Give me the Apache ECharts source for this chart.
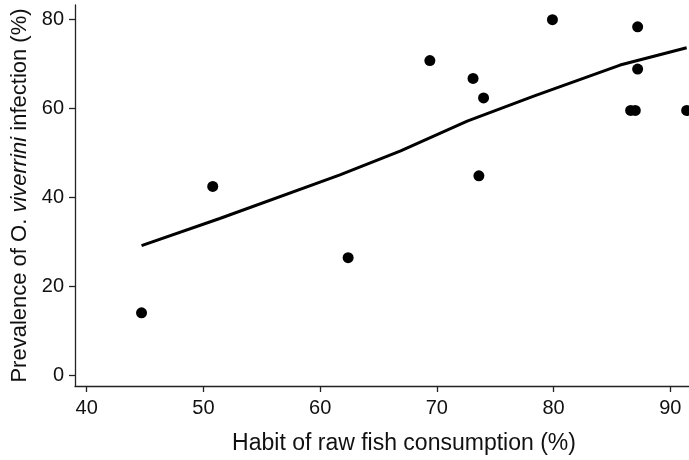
<!DOCTYPE html>
<html>
<head>
<meta charset="utf-8">
<script src="https://cdn.jsdelivr.net/npm/echarts@6/dist/echarts.min.js"></script>
<style>
html,body{margin:0;padding:0;background:#fff;}
#c{width:689px;height:460px;}
</style>
</head>
<body>
<div id="c"></div>
<script>
// Observed data: habit of raw fish consumption (%) vs prevalence of O. viverrini infection (%)
var habitX = [44.7, 50.8, 62.4, 69.4, 73.1, 74.0, 73.6, 79.9, 87.2, 87.2, 86.6, 87.0, 91.4];
var prevalenceY = [14.0, 42.4, 26.4, 70.7, 66.7, 62.3, 44.8, 79.9, 78.3, 68.8, 59.5, 59.5, 59.5];

// Fitted (smoothed) line
var fitX = [44.7, 51.4, 61.7, 66.9, 72.6, 78.3, 85.7, 91.4];
var fitY = [29.1, 35.2, 45.0, 50.4, 57.1, 62.7, 69.7, 73.6];

var xTicks = [40, 50, 60, 70, 80, 90];
var yTicks = [0, 20, 40, 60, 80];

var points = habitX.map(function (x, i) { return [x, prevalenceY[i]]; });
var fitLine = fitX.map(function (x, i) { return [x, fitY[i]]; });

var font = '"Liberation Sans", Arial, Helvetica, sans-serif';
var txt = '#111';
var axisCol = '#222';

var chart = echarts.init(document.getElementById('c'), null, {renderer: 'canvas'});
chart.setOption({
  animation: false,
  backgroundColor: '#fff',
  grid: {left: 75, right: 0, top: 5, bottom: 72, containLabel: false},
  xAxis: {
    type: 'value',
    min: 39, max: 91.6,
    name: 'Habit of raw fish consumption (%)',
    nameLocation: 'middle',
    nameGap: 46,
    nameTextStyle: {fontFamily: font, fontSize: 23, color: txt, padding: [0, 0, 0, 44]},
    axisLine: {show: true, onZero: false, lineStyle: {color: axisCol, width: 1.3}},
    axisTick: {show: true, length: 6, lineStyle: {color: axisCol, width: 1.3}, customValues: xTicks},
    axisLabel: {fontFamily: font, fontSize: 20, color: txt, margin: 12, customValues: xTicks},
    splitLine: {show: false}
  },
  yAxis: {
    type: 'value',
    min: -2.46, max: 83.2,
    name: '{n|Prevalence of O. }{i|viverrini}{n| infection (%)}',
    nameLocation: 'middle',
    nameRotate: 90,
    nameGap: 42,
    nameTextStyle: {
      fontFamily: font, fontSize: 22, color: txt,
      rich: {
        n: {fontFamily: font, fontSize: 22, color: txt},
        i: {fontFamily: font, fontSize: 22, color: txt, fontStyle: 'italic'}
      }
    },
    axisLine: {show: true, onZero: false, lineStyle: {color: axisCol, width: 1.3}},
    axisTick: {show: true, length: 6, lineStyle: {color: axisCol, width: 1.3}, customValues: yTicks},
    axisLabel: {fontFamily: font, fontSize: 20, color: txt, margin: 11, customValues: yTicks},
    splitLine: {show: false}
  },
  series: [
    {
      type: 'line',
      data: fitLine,
      showSymbol: false,
      smooth: false,
      lineStyle: {color: '#000', width: 3},
      z: 2
    },
    {
      type: 'scatter',
      data: points,
      symbol: 'circle',
      symbolSize: 11,
      itemStyle: {color: '#000', opacity: 1},
      clip: false,
      z: 3
    }
  ]
});
</script>
</body>
</html>
